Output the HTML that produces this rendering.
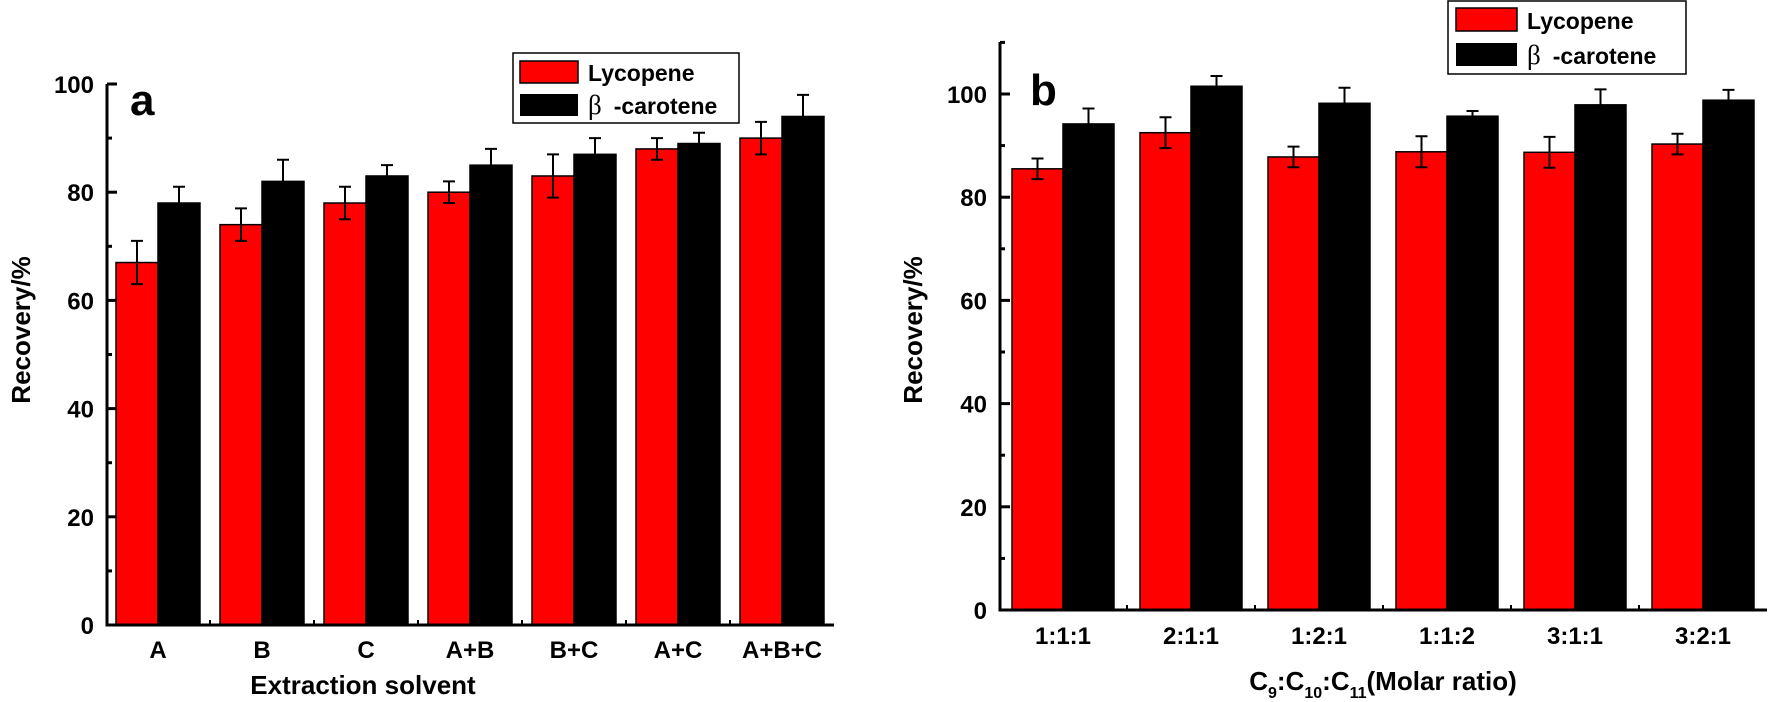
<!DOCTYPE html>
<html><head><meta charset="utf-8"><style>
html,body{margin:0;padding:0;background:#fff}
svg{display:block;font-family:"Liberation Sans",Arial,sans-serif;font-weight:bold}
</style></head><body>
<svg id="chart" width="1770" height="702" viewBox="0 0 1770 702">
</svg>
<script>
const catsA = ["A","B","C","A+B","B+C","A+C","A+B+C"];
const lycA = [67,74,78,80,83,88,90];
const lycErrA = [4,3,3,2,4,2,3];
const betA = [78,82,83,85,87,89,94];
const betErrA = [3,4,2,3,3,2,4];
const ticksA = [0,20,40,60,80,100];

const catsB = ["1:1:1","2:1:1","1:2:1","1:1:2","3:1:1","3:2:1"];
const lycB = [85.5,92.5,87.8,88.8,88.7,90.3];
const lycErrB = [2,3,2,3,3,2];
const betB = [94.2,101.5,98.2,95.7,97.9,98.8];
const betErrB = [3,2,3,1,3,2];
const ticksB = [0,20,40,60,80,100];

const NS="http://www.w3.org/2000/svg";
const svg=document.getElementById('chart');
function mk(tag,attrs,parent){const e=document.createElementNS(NS,tag);for(const k in attrs)e.setAttribute(k,attrs[k]);(parent||svg).appendChild(e);return e;}

function panel(cfg){
  const g=mk('g',{});
  
  
  const y=v=>cfg.y0-(v/cfg.vmax)*(cfg.y0-cfg.yTopVal);
  const n=cfg.cats.length;
  const gw=cfg.gw;
  const cx=i=>cfg.c0+i*gw;
  for(let i=0;i<n;i++){
    const r=mk('rect',{x:cx(i)-cfg.bw,y:y(cfg.lyc[i]),width:cfg.bw,height:cfg.y0-y(cfg.lyc[i]),fill:'#ff0000',stroke:'#000','stroke-width':1.5},g);
    
    
    const b=mk('rect',{x:cx(i),y:y(cfg.bet[i]),width:cfg.bw,height:cfg.y0-y(cfg.bet[i]),fill:'#000',stroke:'#000','stroke-width':1.5},g);
    
    
    [[cx(i)-cfg.bw/2,cfg.lyc[i],cfg.lycE[i]],[cx(i)+cfg.bw/2,cfg.bet[i],cfg.betE[i]]].forEach(([x,v,e])=>{
      const eb=mk('path',{d:`M${x} ${y(v-e)}V${y(v+e)}M${x-6} ${y(v+e)}H${x+6}M${x-6} ${y(v-e)}H${x+6}`,stroke:'#000','stroke-width':2,fill:'none'},g);
      
      
    });
    const t=mk('text',{x:cx(i),y:cfg.xlabY,'font-size':24,'text-anchor':'middle'},g);
    t.textContent=cfg.cats[i];
    
    
    if(i>0){mk('line',{x1:cx(i)-gw/2,x2:cx(i)-gw/2,y1:cfg.y0,y2:cfg.y0-5,stroke:'#000','stroke-width':2},g);}
  }
  const xEnd=cfg.c0+(n-0.5)*gw;
  const ax=mk('path',{d:`M${cfg.ax} ${cfg.axTop}V${cfg.y0}H${xEnd}`,stroke:'#000','stroke-width':3,fill:'none'},g);
  
  
  for(let v=0;v<=cfg.vmaxTick;v+=10){
    const major=v%20===0;
    mk('line',{x1:cfg.ax,x2:cfg.ax+(major?10:5),y1:y(v),y2:y(v),stroke:'#000','stroke-width':3},g);
  }
  cfg.ticks.forEach(v=>{
    const t=mk('text',{x:cfg.ax-13,y:y(v)+9,'font-size':24,'text-anchor':'end'},g);
    t.textContent=v;
    
    
  });
  const yt=mk('text',{transform:`translate(${cfg.ytX},${cfg.ytY}) rotate(-90)`,'font-size':26,'text-anchor':'middle'},g);
  yt.textContent='Recovery/%';
  
  
  const pl=mk('text',{x:cfg.plX,y:cfg.plY,'font-size':44},g);
  pl.textContent=cfg.letter;
  
  
  const L=cfg.leg;
  const lg=mk('g',{},g);
  
  
  mk('rect',{x:L.x,y:L.y,width:L.w,height:L.h,fill:'#fff',stroke:'#000','stroke-width':1.5},lg);
  mk('rect',{x:L.sx,y:L.r1,width:L.sw,height:L.sh,fill:'#ff0000',stroke:'#000','stroke-width':1.5},lg);
  mk('rect',{x:L.sx,y:L.r2,width:L.sw,height:L.sh,fill:'#000'},lg);
  const t1=mk('text',{x:L.tx,y:L.r1+L.sh-2,'font-size':23},lg);t1.textContent='Lycopene';
  
  
  const t2=mk('text',{x:L.tx,y:L.r2+L.sh-2,'font-size':23},lg);
  const s1=mk('tspan',{'font-family':'"Liberation Serif",serif','font-weight':'normal','font-size':27},t2);s1.textContent='β';
  const s2=mk('tspan',{dx:12},t2);s2.textContent='-carotene';
  
  
  return g;
}

panel({name:'panel-a',cats:catsA,lyc:lycA,lycE:lycErrA,bet:betA,betE:betErrA,ticks:ticksA,
  y0:625,yTopVal:84,vmax:100,vmaxTick:100,axTop:84,ax:107,c0:158,gw:104,bw:42,xlabY:658,
  ytX:30,ytY:330,plX:130,plY:115,letter:'a',
  leg:{x:513,y:53,w:226,h:70,sx:520,sw:58,sh:22,r1:61,r2:94,tx:588}});
panel({name:'panel-b',cats:catsB,lyc:lycB,lycE:lycErrB,bet:betB,betE:betErrB,ticks:ticksB,
  y0:610,yTopVal:94,vmax:100,vmaxTick:110,axTop:42,ax:1000,c0:1063,gw:128,bw:51,xlabY:644,
  ytX:922,ytY:330,plX:1030,plY:105,letter:'b',
  leg:{x:1448,y:1,w:238,h:73,sx:1456,sw:61,sh:23,r1:8,r2:43,tx:1527}});

const xa=mk('text',{x:363,y:694,'font-size':26,'text-anchor':'middle'});
xa.textContent='Extraction solvent';


const xb=mk('text',{x:1383,y:690,'font-size':26,'text-anchor':'middle'});
xb.innerHTML='C<tspan dy="8" font-size="16">9</tspan><tspan dy="-8">:C</tspan><tspan dy="8" font-size="16">10</tspan><tspan dy="-8">:C</tspan><tspan dy="8" font-size="16">11</tspan><tspan dy="-8">(Molar ratio)</tspan>';


</script>
</body></html>
